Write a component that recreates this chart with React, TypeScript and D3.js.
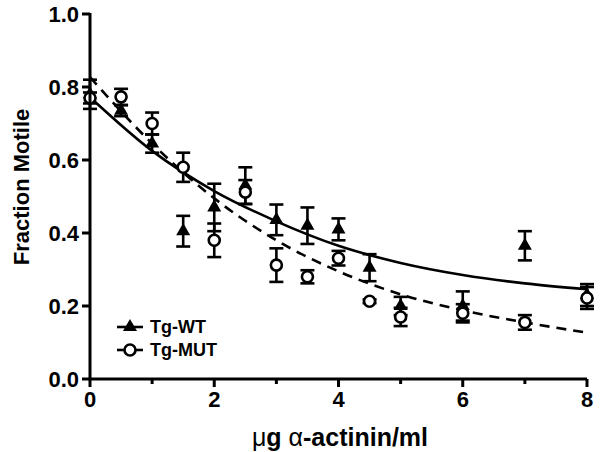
import * as d3 from "d3";

// concentrations (µg α-actinin/ml)
const doses = [0, 0.5, 1, 1.5, 2, 2.5, 3, 3.5, 4, 4.5, 5, 6, 7, 8];
// Tg-WT mean and SEM
const wtMean = [0.78, 0.735, 0.645, 0.405, 0.47, 0.53, 0.436, 0.42, 0.41, 0.305, 0.2, 0.2, 0.365, 0.23];
const wtErr = [0.04, 0.015, 0.025, 0.042, 0.065, 0.05, 0.042, 0.05, 0.03, 0.037, 0.025, 0.04, 0.04, 0.03];
// Tg-MUT mean and SEM
const mutMean = [0.77, 0.773, 0.7, 0.58, 0.38, 0.512, 0.312, 0.28, 0.331, 0.213, 0.17, 0.18, 0.155, 0.222];
const mutErr = [0.015, 0.022, 0.03, 0.04, 0.046, 0.033, 0.046, 0.018, 0.02, 0.005, 0.025, 0.025, 0.02, 0.03];

// fitted decay curves
const fitX = [0, 1, 2, 3, 4, 5, 6, 7, 8];
const wtFit = [0.772, 0.625, 0.515, 0.432, 0.365, 0.318, 0.285, 0.262, 0.246];
const mutFit = [0.827, 0.645, 0.495, 0.38, 0.295, 0.232, 0.188, 0.155, 0.127];

const xTicks = [0, 2, 4, 6, 8];
const xMinor = [1, 3, 5, 7];
const yTicks = [0, 0.2, 0.4, 0.6, 0.8, 1.0];

const W = 600;
const H = 452;
const M = { left: 90, right: 587, top: 14, bottom: 379 };
const FONT = "'Liberation Sans', Arial, Helvetica, sans-serif";

export default function App() {
  const x = d3.scaleLinear().domain([0, 8]).range([M.left, M.right]);
  const y = d3.scaleLinear().domain([0, 1]).range([M.bottom, M.top]);

  const line = d3
    .line<number>()
    .x((_, i) => x(fitX[i]))
    .y((d) => y(d))
    .curve(d3.curveMonotoneX);

  const tri = d3.symbol(d3.symbolTriangle, 85)() ?? "";
  const cap = 7;

  const errBars = (means: number[], errs: number[], key: string) =>
    means.map((m, i) => {
      const cx = x(doses[i]);
      const top = y(m + errs[i]);
      const bot = y(m - errs[i]);
      return (
        <g key={`${key}-${i}`} stroke="#000" strokeWidth={2.6}>
          <line x1={cx} x2={cx} y1={top} y2={bot} />
          <line x1={cx - cap} x2={cx + cap} y1={top} y2={top} />
          <line x1={cx - cap} x2={cx + cap} y1={bot} y2={bot} />
        </g>
      );
    });

  return (
    <div style={{ position: "absolute", left: 0, top: 0 }}>
      <svg width={W} height={H} viewBox={`0 0 ${W} ${H}`} style={{ display: "block", background: "#fff" }}>
        {/* fitted curves */}
        <path d={line(wtFit) ?? undefined} fill="none" stroke="#000" strokeWidth={2.6} />
        <path d={line(mutFit) ?? undefined} fill="none" stroke="#000" strokeWidth={2.6} strokeDasharray="10,7" />

        {errBars(wtMean, wtErr, "wt")}
        {errBars(mutMean, mutErr, "mut")}

        {wtMean.map((m, i) => (
          <path key={`wtp-${i}`} d={tri} transform={`translate(${x(doses[i])},${y(m)})`} fill="#000" />
        ))}
        {mutMean.map((m, i) => (
          <circle key={`mutp-${i}`} cx={x(doses[i])} cy={y(m)} r={5.5} fill="#fff" stroke="#000" strokeWidth={2.6} />
        ))}

        {/* axes */}
        <g stroke="#000" strokeWidth={3} fill="none">
          <line x1={M.left} x2={M.left} y1={M.top - 1} y2={M.bottom} />
          <line x1={M.left - 1.5} x2={M.right} y1={M.bottom} y2={M.bottom} />
          {yTicks.map((t) => (
            <line key={`yt-${t}`} x1={M.left - 8} x2={M.left} y1={y(t)} y2={y(t)} />
          ))}
          {xTicks.map((t) => (
            <line key={`xt-${t}`} x1={x(t)} x2={x(t)} y1={M.bottom} y2={M.bottom + 8} />
          ))}
          {xMinor.map((t) => (
            <line key={`xm-${t}`} x1={x(t)} x2={x(t)} y1={M.bottom} y2={M.bottom + 5} />
          ))}
        </g>

        <g fontFamily={FONT} fontWeight="bold" fontSize={22} fill="#000">
          {yTicks.map((t) => (
            <text key={`yl-${t}`} x={M.left - 11} y={y(t)} textAnchor="end" dominantBaseline="central">
              {t.toFixed(1)}
            </text>
          ))}
          {xTicks.map((t) => (
            <text key={`xl-${t}`} x={x(t)} y={M.bottom + 28} textAnchor="middle">
              {t}
            </text>
          ))}
          <text transform={`translate(29,187) rotate(-90)`} textAnchor="middle" fontSize={22}>
            Fraction Motile
          </text>
          <text x={340} y={446} textAnchor="middle" fontSize={25}>
            <tspan fontWeight="normal">μ</tspan>g <tspan fontWeight="normal">α</tspan>-actinin/ml
          </text>
        </g>

        {/* legend */}
        <g>
          <line x1={117} x2={143} y1={327} y2={327} stroke="#000" strokeWidth={2.6} />
          <path d={tri} transform="translate(130,327)" fill="#000" />
          <line x1={117} x2={143} y1={350} y2={350} stroke="#000" strokeWidth={2.6} />
          <circle cx={130} cy={350} r={5.5} fill="#fff" stroke="#000" strokeWidth={2.6} />
          <text x={150} y={327} dominantBaseline="central" fontFamily={FONT} fontWeight="bold" fontSize={18}>
            Tg-WT
          </text>
          <text x={150} y={350} dominantBaseline="central" fontFamily={FONT} fontWeight="bold" fontSize={18}>
            Tg-MUT
          </text>
        </g>
      </svg>
    </div>
  );
}
